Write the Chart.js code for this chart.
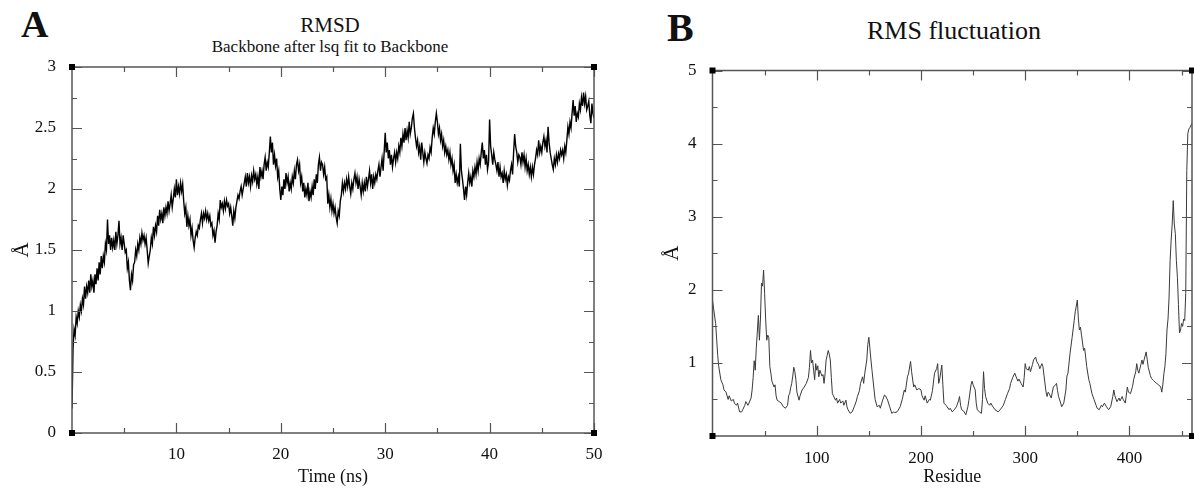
<!DOCTYPE html>
<html>
<head>
<meta charset="utf-8">
<script src="https://cdn.jsdelivr.net/npm/chart.js@4/dist/chart.umd.min.js"></script>
<style>
  html,body{margin:0;padding:0;background:#fff;width:1194px;height:488px;overflow:hidden;}
  .abs{position:absolute;font-family:'Liberation Serif','Times New Roman',serif;color:#111;white-space:nowrap;}
  canvas{position:absolute;}
</style>
</head>
<body>
<div class="abs" style="left:21px;top:5px;font-size:38px;line-height:38px;font-weight:bold;">A</div>
<div class="abs" style="left:130px;width:400px;text-align:center;top:15px;font-size:21px;line-height:21px;">RMSD</div>
<div class="abs" style="left:130px;width:400px;text-align:center;top:38px;font-size:17px;line-height:17px;">Backbone after lsq fit to Backbone</div>
<div class="abs" style="left:667px;top:8px;font-size:40px;line-height:40px;font-weight:bold;">B</div>
<div class="abs" style="left:754px;width:400px;text-align:center;top:18px;font-size:26px;line-height:26px;">RMS fluctuation</div>
<canvas id="cA" width="620" height="488" style="left:0;top:0;"></canvas>
<canvas id="cB" width="554" height="488" style="left:640px;top:0;"></canvas>
<script>
// ---------- Panel A: RMSD (Å) vs time (ns), 0.1 ns steps ----------
const rmsdA = [
0.2,0.7,0.85,0.8,0.95,0.9,1.0,0.95,1.05,1.0,
1.1,1.05,1.2,1.1,1.2,1.15,1.25,1.15,1.3,1.2,
1.25,1.15,1.3,1.22,1.35,1.25,1.4,1.3,1.45,1.35,
1.45,1.4,1.55,1.5,1.75,1.55,1.62,1.5,1.6,1.52,
1.58,1.5,1.65,1.55,1.62,1.74,1.55,1.6,1.5,1.62,
1.55,1.48,1.5,1.35,1.4,1.25,1.17,1.3,1.25,1.38,
1.4,1.5,1.45,1.55,1.5,1.6,1.55,1.64,1.58,1.62,
1.55,1.6,1.5,1.39,1.45,1.5,1.6,1.55,1.69,1.62,
1.7,1.65,1.78,1.7,1.83,1.75,1.8,1.72,1.85,1.78,
1.85,1.8,1.9,1.82,1.88,1.95,1.85,1.92,2.0,1.93,
2.08,1.95,2.02,1.96,2.05,1.98,2.04,1.9,1.8,1.85,
1.69,1.78,1.7,1.75,1.62,1.68,1.58,1.52,1.6,1.65,
1.62,1.7,1.68,1.75,1.8,1.72,1.8,1.76,1.82,1.75,
1.8,1.74,1.78,1.7,1.72,1.62,1.66,1.56,1.65,1.7,
1.8,1.75,1.91,1.85,1.88,1.82,1.9,1.84,1.91,1.86,
1.88,1.8,1.85,1.78,1.7,1.82,1.76,1.85,1.9,1.95,
1.92,1.98,2.02,1.95,2.0,2.05,2.1,2.02,2.13,2.05,
2.1,2.02,2.11,2.06,2.15,2.08,2.12,2.04,2.1,2.0,
2.18,2.1,2.15,2.08,2.2,2.26,2.15,2.22,2.18,2.3,
2.43,2.3,2.38,2.2,2.28,2.19,2.25,2.1,2.15,2.0,
1.91,2.02,1.95,2.08,2.0,2.13,2.05,2.1,1.98,2.05,
2.0,2.1,2.05,2.15,2.08,2.2,2.24,2.15,2.2,2.05,
2.1,1.98,2.05,1.93,2.0,1.95,2.05,1.9,1.98,1.93,
2.02,1.95,2.08,2.0,2.12,2.05,2.2,2.26,2.15,2.22,
2.2,2.12,2.18,2.08,2.1,1.88,1.95,1.85,1.92,1.82,
1.88,1.8,1.85,1.77,1.72,1.82,1.78,1.9,1.95,2.05,
1.98,2.05,2.0,2.08,2.02,2.1,2.02,1.96,2.05,2.0,
2.08,2.13,2.05,2.1,2.0,2.08,2.02,1.95,2.05,1.98,
2.05,1.98,2.1,2.02,2.08,2.15,2.05,2.12,2.0,2.1,
2.05,2.12,2.08,2.15,2.2,2.1,2.18,2.25,2.15,2.3,
2.46,2.3,2.38,2.25,2.32,2.2,2.28,2.18,2.25,2.3,
2.22,2.3,2.25,2.35,2.3,2.42,2.35,2.45,2.38,2.5,
2.4,2.48,2.42,2.55,2.45,2.5,2.58,2.62,2.5,2.42,
2.35,2.4,2.3,2.35,2.24,2.38,2.3,2.22,2.3,2.25,
2.21,2.28,2.25,2.34,2.3,2.42,2.5,2.45,2.55,2.62,
2.55,2.45,2.5,2.4,2.45,2.35,2.4,2.3,2.35,2.28,
2.32,2.24,2.3,2.2,2.25,2.15,2.2,2.05,2.12,2.05,
2.1,2.02,2.37,2.15,2.08,2.0,1.91,2.02,1.95,2.05,
2.13,2.05,2.1,2.02,2.15,2.1,2.18,2.12,2.22,2.15,
2.25,2.2,2.3,2.38,2.25,2.32,2.2,2.28,2.16,2.22,
2.57,2.35,2.28,2.2,2.3,2.24,2.2,2.15,2.22,2.1,
2.18,2.1,2.13,2.05,2.15,2.08,2.12,2.03,2.1,2.07,
2.15,2.2,2.12,2.3,2.45,2.35,2.3,2.22,2.28,2.26,
2.2,2.3,2.22,2.28,2.18,2.25,2.15,2.2,2.12,2.18,
2.1,2.18,2.12,2.2,2.25,2.32,2.28,2.4,2.3,2.35,
2.3,2.38,2.43,2.35,2.4,2.3,2.51,2.38,2.3,2.25,
2.2,2.16,2.25,2.2,2.28,2.22,2.29,2.25,2.32,2.28,
2.32,2.25,2.35,2.3,2.4,2.51,2.45,2.55,2.5,2.62,
2.73,2.6,2.68,2.55,2.62,2.59,2.7,2.65,2.75,2.68,
2.79,2.7,2.76,2.65,2.68,2.72,2.6,2.54,2.7,2.62,
2.58];
const timeStepA = 0.1;
const timeA = rmsdA.map((_, i) => +(i * timeStepA).toFixed(1));
const xTicksA = [10, 20, 30, 40, 50];
const xMinorA = [5, 15, 25, 35, 45];
const yTicksA = [0, 0.5, 1, 1.5, 2, 2.5, 3];
const yMinorA = [0.25, 0.75, 1.25, 1.75, 2.25, 2.75];

// ---------- Panel B: RMSF (Å) per residue ----------
const residueB = [0,1,3,5,6,8,10,11,13,15,16,18,20,21,23,24,26,28,29,31,32,34,35,37,38,39,40,41,42,44,45,46,47,48,49,50,51,52,53,54,55,56,57,59,60,61,62,64,66,68,70,72,73,74,75,76,77,78,79,80,81,83,84,86,88,90,92,93,94,95,96,97,98,99,100,101,102,103,104,105,106,107,108,109,110,111,112,113,114,115,116,118,119,120,122,123,125,126,128,129,130,132,134,136,138,139,141,142,144,145,146,148,149,150,151,152,153,155,156,158,160,161,163,165,166,168,170,172,174,175,177,178,180,182,184,185,187,188,190,191,193,194,196,198,200,201,203,204,206,208,209,211,213,215,216,217,218,220,221,222,224,225,227,228,230,232,234,236,237,238,239,241,243,245,246,248,249,250,252,253,254,256,258,259,260,261,262,264,266,267,269,271,274,276,279,281,283,285,286,288,290,291,293,294,296,298,299,300,301,303,304,305,307,308,310,311,313,314,316,317,318,320,321,322,323,325,326,327,329,330,331,332,334,335,337,339,340,341,343,345,347,348,350,351,352,353,354,356,357,358,359,361,362,364,366,368,369,371,373,374,376,378,380,382,384,385,386,388,390,391,393,394,396,398,399,401,403,404,406,407,408,409,411,412,413,414,416,417,418,420,421,423,426,428,430,431,432,433,434,435,436,437,438,439,440,441,442,443,444,445,446,447,448,449,450,451,452,453,454,455,456,457,458,460];
const rmsfB = [1.86,1.75,1.54,1.1,0.95,0.77,0.7,0.63,0.6,0.5,0.55,0.48,0.5,0.45,0.42,0.45,0.33,0.33,0.36,0.42,0.47,0.42,0.45,0.52,0.63,0.8,1.03,0.9,1.2,1.65,1.31,1.6,2.09,2.05,2.27,1.95,1.6,1.31,1.38,1.35,0.95,0.86,0.75,0.67,0.7,0.55,0.49,0.47,0.45,0.4,0.38,0.42,0.55,0.58,0.66,0.72,0.82,0.94,0.88,0.77,0.6,0.49,0.55,0.63,0.67,0.72,0.8,0.94,1.17,1.0,1.04,0.9,0.77,0.99,0.9,0.96,0.81,0.9,0.86,0.82,0.84,0.72,0.85,1.04,1.1,1.17,1.12,1.04,0.8,0.58,0.55,0.49,0.52,0.45,0.5,0.45,0.48,0.42,0.49,0.4,0.36,0.31,0.33,0.4,0.48,0.54,0.62,0.72,0.81,0.72,0.85,1.04,1.25,1.35,1.2,1.04,0.9,0.63,0.5,0.4,0.42,0.38,0.48,0.56,0.55,0.49,0.4,0.31,0.33,0.32,0.33,0.35,0.4,0.5,0.63,0.6,0.81,0.85,1.02,0.88,0.67,0.7,0.63,0.65,0.63,0.55,0.49,0.55,0.45,0.5,0.49,0.62,0.86,0.92,0.99,0.72,0.78,0.97,0.7,0.45,0.42,0.4,0.36,0.38,0.33,0.36,0.4,0.48,0.54,0.42,0.36,0.34,0.29,0.4,0.49,0.7,0.75,0.7,0.63,0.45,0.36,0.33,0.31,0.5,0.88,0.65,0.54,0.45,0.42,0.45,0.4,0.36,0.33,0.36,0.42,0.5,0.58,0.65,0.72,0.8,0.86,0.82,0.75,0.78,0.72,0.67,0.8,0.99,0.92,0.9,0.95,0.88,0.98,1.04,1.08,1.02,0.97,0.92,0.99,0.95,0.83,0.6,0.54,0.6,0.58,0.52,0.6,0.67,0.7,0.72,0.62,0.54,0.45,0.4,0.45,0.63,0.82,0.86,1.13,1.35,1.58,1.7,1.86,1.6,1.45,1.49,1.38,1.17,1.2,1.08,0.95,0.77,0.72,0.58,0.5,0.42,0.38,0.36,0.42,0.4,0.45,0.4,0.36,0.4,0.54,0.63,0.55,0.47,0.52,0.48,0.54,0.5,0.45,0.67,0.6,0.58,0.68,0.77,0.88,0.99,0.9,0.86,0.98,1.04,0.98,1.04,1.15,1.05,0.94,0.83,0.79,0.76,0.72,0.7,0.67,0.6,0.7,0.85,0.95,1.13,1.45,1.6,1.9,2.4,2.68,2.9,3.22,2.9,2.77,2.4,2.17,1.8,1.41,1.45,1.54,1.5,1.6,1.58,1.95,3.63,4.14,4.2,4.22,4.28];
const xTicksB = [100, 200, 300, 400];
const xMinorB = [50, 150, 250, 350, 450];
const yTicksB = [1, 2, 3, 4, 5];
const yMinorB = [0.5, 1.5, 2.5, 3.5, 4.5];

const SERIF = "'Liberation Serif','Times New Roman',serif";

function framePlugin(xMaj, xMin, yMaj, yMin) {
  return {
    id: 'frame',
    afterDatasetsDraw(chart) {
      const ctx = chart.ctx, a = chart.chartArea;
      const xs = chart.scales.x, ys = chart.scales.y;
      ctx.save();
      ctx.strokeStyle = '#555';
      ctx.lineWidth = 1.5;
      ctx.strokeRect(a.left, a.top, a.right - a.left, a.bottom - a.top);
      ctx.lineWidth = 1.2;
      ctx.beginPath();
      const tick = (vals, len) => {
        vals.forEach(v => {
          const p = Math.round(xs.getPixelForValue(v)) + 0.5;
          ctx.moveTo(p, a.bottom); ctx.lineTo(p, a.bottom - len);
          ctx.moveTo(p, a.top); ctx.lineTo(p, a.top + len);
        });
      };
      const ytick = (vals, len) => {
        vals.forEach(v => {
          const p = Math.round(ys.getPixelForValue(v)) + 0.5;
          ctx.moveTo(a.left, p); ctx.lineTo(a.left + len, p);
          ctx.moveTo(a.right, p); ctx.lineTo(a.right - len, p);
        });
      };
      tick(xMaj, 10); tick(xMin, 5); ytick(yMaj, 10); ytick(yMin, 5);
      ctx.stroke();
      ctx.fillStyle = '#000';
      [[a.left, a.top], [a.right, a.top], [a.left, a.bottom], [a.right, a.bottom]].forEach(([x, y]) => {
        ctx.fillRect(x - 3, y - 3, 6, 6);
      });
      ctx.restore();
    }
  };
}

function makeChart(canvasId, o) {
  return new Chart(document.getElementById(canvasId), {
    type: 'line',
    data: { datasets: [{ data: o.points, borderColor: o.color, borderWidth: o.lw, pointRadius: 0, tension: 0, fill: false }] },
    options: {
      responsive: false, animation: false, devicePixelRatio: 1,
      layout: { padding: o.pad },
      plugins: { legend: { display: false }, tooltip: { enabled: false } },
      scales: {
        x: {
          type: 'linear', min: o.xmin, max: o.xmax,
          grid: { display: false }, border: { display: false },
          afterBuildTicks: s => { s.ticks = o.xTicks.map(v => ({ value: v })); },
          afterFit: s => { s.height = o.xh; s.paddingLeft = 0; s.paddingRight = 0; },
          ticks: { autoSkip: false, maxRotation: 0, padding: o.xtp, color: '#111', font: { family: SERIF, size: 17 }, callback: v => String(v) },
          title: { display: true, text: o.xTitle, color: '#111', font: { family: SERIF, size: 18 }, padding: { top: 0, bottom: 0 } }
        },
        y: {
          type: 'linear', min: o.ymin, max: o.ymax,
          grid: { display: false }, border: { display: false },
          afterBuildTicks: s => { s.ticks = o.yTicks.map(v => ({ value: v })); },
          afterFit: s => { s.width = o.yw; s.paddingTop = 0; s.paddingBottom = 0; },
          ticks: { autoSkip: false, padding: 8, color: '#111', font: { family: SERIF, size: 17 }, callback: v => String(v) },
          title: { display: true, text: 'Å', color: '#111', font: { family: SERIF, size: 21 }, padding: { top: o.ytp, bottom: 0 } }
        }
      }
    },
    plugins: [framePlugin(o.xTicks, o.xMinor, o.yTicks, o.yMinor)]
  });
}

makeChart('cA', {
  points: timeA.map((t, i) => ({ x: t, y: rmsdA[i] })),
  color: '#000', lw: 1.4,
  xmin: 0, xmax: 50, ymin: 0, ymax: 3,
  xTicks: xTicksA, xMinor: xMinorA, yTicks: yTicksA, yMinor: yMinorA,
  pad: { left: 0, top: 67, right: 26, bottom: 0 },
  xh: 55, yw: 72, xtp: 3, ytp: 10, xTitle: 'Time (ns)'
});

makeChart('cB', {
  points: residueB.map((r, i) => ({ x: r, y: rmsfB[i] })),
  color: '#3a3a3a', lw: 1,
  xmin: 0, xmax: 460, ymin: 0, ymax: 5,
  xTicks: xTicksB, xMinor: xMinorB, yTicks: yTicksB, yMinor: yMinorB,
  pad: { left: 0, top: 70.5, right: 2, bottom: 0 },
  xh: 52, yw: 72.5, xtp: 4, ytp: 20, xTitle: 'Residue'
});
</script>
</body>
</html>
